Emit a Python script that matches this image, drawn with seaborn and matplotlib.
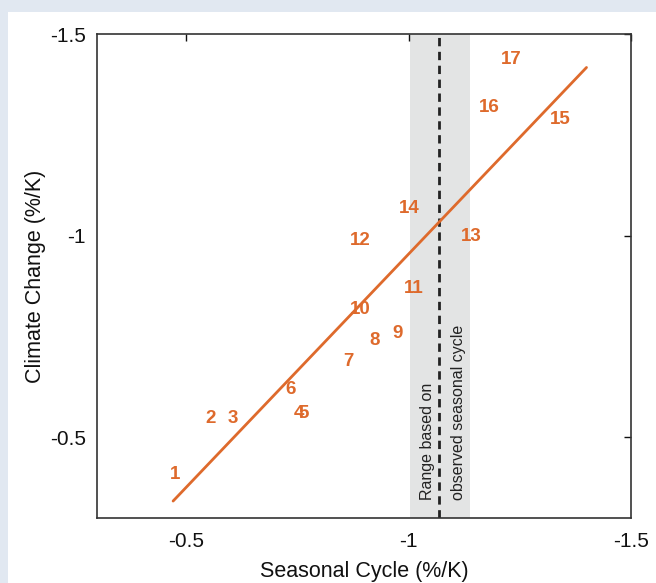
import matplotlib
matplotlib.use("Agg")
import matplotlib.pyplot as plt
import numpy as np
import pandas as pd
import seaborn as sns
from matplotlib.patches import Rectangle

# model points (seasonal cycle vs climate change), labelled by model number
model_ids = [str(i) for i in range(1, 18)]
seasonal = [-0.475, -0.555, -0.606, -0.754, -0.765, -0.736, -0.865, -0.925, -0.975,
            -0.891, -1.011, -0.891, -1.140, -1.001, -1.340, -1.181, -1.230]
climate = [-0.409, -0.547, -0.547, -0.558, -0.558, -0.619, -0.688, -0.739, -0.758,
           -0.818, -0.868, -0.988, -0.998, -1.068, -1.288, -1.317, -1.438]

# fitted line end points
fit_x = [-0.471, -1.400]
fit_y = [-0.342, -1.417]

# observed seasonal cycle: range and best estimate
obs_range = [-1.003, -1.138]
obs_best = -1.069

orange = "#de6a2c"

sns.set_theme(style="white")
plt.rcParams["font.family"] = ["Liberation Sans", "DejaVu Sans"]

fig = plt.figure(figsize=(6.56, 5.83), dpi=100)
fig.patch.set_facecolor("#e1e8f1")
fig.patches.append(Rectangle((8 / 656, 0), 1, 1 - 12 / 583, transform=fig.transFigure,
                             facecolor="white", edgecolor="none", zorder=-5))
ax = fig.add_axes([97 / 656, 1 - 518 / 583, 534 / 656, 484 / 583])

ax.axvspan(obs_range[0], obs_range[1], color="#e3e4e4", lw=0, zorder=0)
ax.axvline(obs_best, color="#222222", ls=(0, (3, 2)), lw=2, zorder=1)

fit_df = pd.DataFrame({"x": fit_x, "y": fit_y})
sns.lineplot(data=fit_df, x="x", y="y", ax=ax, color=orange, lw=2, sort=False, zorder=2)

for lab, x, y in zip(model_ids, seasonal, climate):
    ax.text(x, y, lab, color=orange, fontsize=13.5, fontweight="bold",
            ha="center", va="center", zorder=3)

ax.text(-1.043, -0.345, "Range based on", rotation=90, ha="center", va="bottom",
        fontsize=11.5, color="#222222")
ax.text(-1.113, -0.345, "observed seasonal cycle", rotation=90, ha="center", va="bottom",
        fontsize=11.5, color="#222222")

ax.set_xlim(-0.3, -1.5)
ax.set_ylim(-0.3, -1.5)
ax.set_xticks([-0.5, -1, -1.5])
ax.set_xticklabels(["-0.5", "-1", "-1.5"])
ax.set_yticks([-0.5, -1, -1.5])
ax.set_yticklabels(["-0.5", "-1", "-1.5"])
ax.tick_params(direction="in", length=5, width=1, top=True, right=True,
               labelsize=15, colors="#111111")
ax.tick_params(axis="x", pad=10)
ax.tick_params(axis="y", pad=8)
for s in ax.spines.values():
    s.set_color("#333333")
    s.set_linewidth(1.2)

ax.set_xlabel("Seasonal Cycle (%/K)", fontsize=15.5, color="#111111", labelpad=7)
ax.set_ylabel("Climate Change (%/K)", fontsize=15.5, color="#111111", labelpad=3)
ax.set_facecolor("white")

fig.savefig("out.png", dpi=100)
